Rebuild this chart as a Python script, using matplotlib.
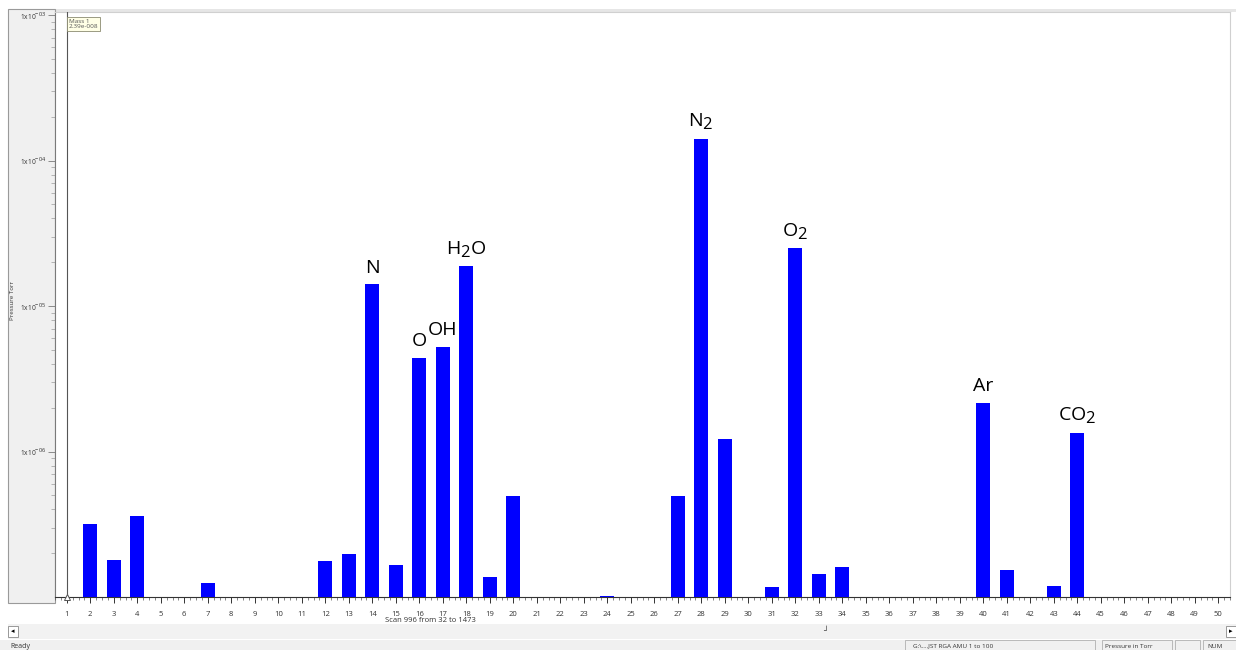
import matplotlib
matplotlib.use("Agg")
import matplotlib.pyplot as plt
from matplotlib.patches import Rectangle
from matplotlib.ticker import FixedLocator, FuncFormatter, NullFormatter
import matplotlib._mathtext as _mt
import numpy as np

# RGA scan: mass (AMU) and partial pressure (Torr)
masses = [2, 3, 4, 7, 12, 13, 14, 15, 16, 17, 18, 19, 20, 24,
          27, 28, 29, 31, 32, 33, 34, 40, 41, 43, 44]
pressures = [3.16e-7, 1.79e-7, 3.59e-7, 1.25e-7, 1.76e-7, 1.97e-7, 1.41e-5,
             1.66e-7, 4.40e-6, 5.24e-6, 1.88e-5, 1.37e-7, 4.92e-7, 1.02e-7,
             4.92e-7, 1.41e-4, 1.21e-6, 1.17e-7, 2.50e-5, 1.44e-7, 1.60e-7,
             2.17e-6, 1.53e-7, 1.19e-7, 1.35e-6]

# species labels placed above selected peaks
label_masses = [14, 16, 17, 18, 28, 32, 40, 44]
label_texts = ["N", "O", "OH", r"H$_2$O", r"N$_2$", r"O$_2$", "Ar", r"CO$_2$"]

y_floor = 1e-7
y_top = 1.05e-3
mass_ticks = list(range(1, 51))
decades = [1e-6, 1e-5, 1e-4, 1e-3]

plt.rcParams["font.family"] = ["Open Sans", "DejaVu Sans"]
plt.rcParams["mathtext.fontset"] = "custom"
plt.rcParams["mathtext.rm"] = "Open Sans"
plt.rcParams["mathtext.it"] = "Open Sans"
plt.rcParams["mathtext.bf"] = "Open Sans"
# larger subscripts for the chemical formulas
_mt.SHRINK_FACTOR = 0.85

W, H = 1236, 650
fig = plt.figure(figsize=(W / 100, H / 100), dpi=100)
fig.patch.set_facecolor("white")


def px_rect(x0, y0, x1, y1, z=-1, **kw):
    """Rectangle in figure pixels (y measured from the top)."""
    r = Rectangle((x0 / W, 1 - y1 / H), (x1 - x0) / W, (y1 - y0) / H,
                  transform=fig.transFigure, zorder=z, **kw)
    fig.patches.append(r)
    return r


# window chrome: left gutter panel, scrollbar and status bar
px_rect(10, 9, 1236, 12, facecolor="#e6e6e6", edgecolor="none")
px_rect(8, 9, 55, 603, facecolor="#f0f0f0", edgecolor="#9a9a9a", lw=0.8)
px_rect(8, 624, 1236, 639, facecolor="#f2f2f2", edgecolor="none")
px_rect(8, 626, 18, 637, z=2, facecolor="white", edgecolor="#8a8a8a", lw=0.6)
px_rect(1226, 626, 1236, 637, z=2, facecolor="white", edgecolor="#8a8a8a",
        lw=0.6)
fig.text(13 / W, 1 - 631.5 / H, "◂", fontsize=5, ha="center", va="center",
         family="DejaVu Sans", zorder=3)
fig.text(1231 / W, 1 - 631.5 / H, "▸", fontsize=5, ha="center", va="center",
         family="DejaVu Sans", zorder=3)
fig.text(826 / W, 1 - 631 / H, "┘", fontsize=6, ha="center", va="center",
         family="DejaVu Sans", color="#444444")
px_rect(0, 640, 1236, 650, facecolor="#f0f0f0", edgecolor="none")
fig.text(10 / W, 1 - 646 / H, "Ready", fontsize=5, ha="left", va="center",
         color="#333333")
px_rect(905, 640, 1095, 650, z=2, facecolor="none", edgecolor="#b0b0b0",
        lw=0.6)
fig.text(913 / W, 1 - 646 / H, "G:\\....JST RGA AMU 1 to 100", fontsize=4.6,
         ha="left", va="center", color="#333333")
px_rect(1102, 640, 1172, 650, z=2, facecolor="none", edgecolor="#b0b0b0",
        lw=0.6)
fig.text(1105 / W, 1 - 646 / H, "Pressure in Torr", fontsize=4.6,
         ha="left", va="center", color="#333333")
px_rect(1175, 640, 1200, 650, z=2, facecolor="none", edgecolor="#b0b0b0",
        lw=0.6)
px_rect(1203, 640, 1236, 650, z=2, facecolor="none", edgecolor="#b0b0b0",
        lw=0.6)
fig.text(1207 / W, 1 - 646 / H, "NUM", fontsize=4.6, ha="left", va="center",
         color="#333333")
fig.text(12.5 / W, 1 - 300 / H, "Pressure Torr", fontsize=4.4, rotation=90,
         ha="center", va="center", color="#333333")

# plotting area
ax = fig.add_axes([55 / W, 1 - 597 / H, (1230 - 55) / W, (597 - 12) / H])
ax.set_facecolor("white")
ax.set_yscale("log")
ax.set_xlim(0.5, 50.5)
ax.set_ylim(y_floor, y_top)

heights = [p - y_floor for p in pressures]
ax.bar(masses, heights, bottom=y_floor, width=0.6, color="#0000ff",
       edgecolor="none", zorder=3)

# species annotations
for m, t in zip(label_masses, label_texts):
    p = pressures[masses.index(m)]
    ax.annotate(t, xy=(m, p), xytext=(0, 5.5), textcoords="offset points",
                ha="center", va="bottom", fontsize=14, color="#000000",
                zorder=4)

# cursor on mass 1 with its readout box
ax.axvline(1, color="#555555", lw=0.8, zorder=5)
ax.plot([1], [y_floor], marker="^", markersize=5, markerfacecolor="white",
        markeredgecolor="#555555", markeredgewidth=0.7, clip_on=False,
        zorder=6)
ax.text(1.08, 9.4e-4, "Mass 1\n2.39e-008", fontsize=4.6, ha="left", va="top",
        color="#555555", linespacing=1.1, zorder=6,
        bbox=dict(boxstyle="square,pad=0.3", facecolor="#ffffe6",
                  edgecolor="#8a8a70", lw=0.6))

# axes styling
for side in ("top", "right"):
    ax.spines[side].set_color("#d0d0d0")
    ax.spines[side].set_linewidth(0.8)
ax.spines["left"].set_color("#7a7a7a")
ax.spines["left"].set_linewidth(0.8)
ax.spines["bottom"].set_color("#333333")
ax.spines["bottom"].set_linewidth(0.8)

ax.xaxis.set_major_locator(FixedLocator(mass_ticks))
ax.xaxis.set_minor_locator(FixedLocator(
    [m + f for m in range(0, 51) for f in (0.25, 0.5, 0.75)]))
ax.xaxis.set_minor_formatter(NullFormatter())
ax.tick_params(axis="x", which="major", direction="out", length=4, width=0.7,
               color="#333333", labelsize=5.5, labelcolor="#333333", pad=6)
ax.tick_params(axis="x", which="minor", direction="out", length=2, width=0.5,
               color="#555555")

ax.yaxis.set_major_locator(FixedLocator(decades))
ax.yaxis.set_major_formatter(FuncFormatter(
    lambda v, _: r"1x10$^{%03d}$" % int(round(np.log10(v))) if v > 0 else ""))
ax.yaxis.set_minor_locator(FixedLocator(
    [k * 10.0 ** e for e in range(-7, -3) for k in range(2, 10)]))
ax.yaxis.set_minor_formatter(NullFormatter())
ax.tick_params(axis="y", which="major", direction="out", length=5, width=0.6,
               color="#7a7a7a", labelsize=4.8, labelcolor="#333333", pad=1)
ax.tick_params(axis="y", which="minor", direction="out", length=3, width=0.5,
               color="#9a9a9a")

fig.text(430 / W, 1 - 621 / H, "Scan 996 from 32 to 1473", fontsize=5.5,
         ha="center", va="center", color="#333333")

fig.savefig("out.png", dpi=100, facecolor=fig.get_facecolor())
